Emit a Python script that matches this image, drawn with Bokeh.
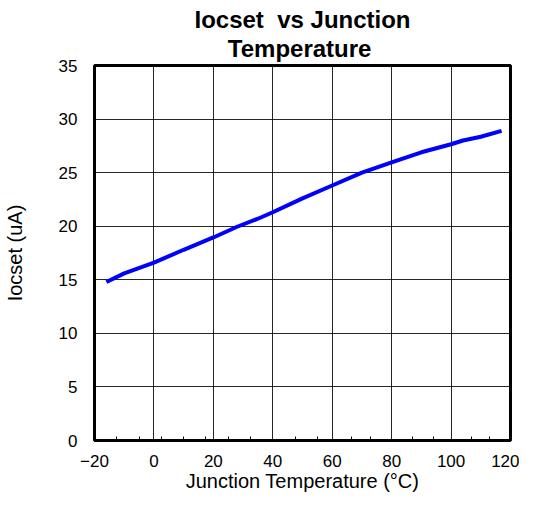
from bokeh.plotting import figure
from bokeh.models import FixedTicker, Range1d, Title
from bokeh.embed import file_html
from bokeh.resources import INLINE

temp_c = [-16, -10, 0, 10, 20, 28, 35, 40, 50, 60, 70, 80, 90, 100, 104, 110, 117]
iocset_ua = [14.8, 15.6, 16.6, 17.8, 18.95, 19.95, 20.7, 21.3, 22.6, 23.8, 25.0, 25.95, 26.9, 27.65, 28.0, 28.35, 28.9]

x_ticks = [-20, 0, 20, 40, 60, 80, 100, 120]
x_minor_ticks = [-12.5, -5, 2.5, 10, 17.5, 25, 32.5, 47.5, 55, 66.5, 73, 87, 94, 107, 113]
y_ticks = [0, 5, 10, 15, 20, 25, 30, 35]

title_line1 = "Iocset\u00a0\u00a0vs Junction"
title_line2 = "Temperature"
x_label = "Junction Temperature (°C)"
y_label = "Iocset (uA)"

FONT = "Liberation Sans"

p = figure(width=519, height=496, output_backend="svg", toolbar_location=None,
           x_range=Range1d(-20, 120), y_range=Range1d(0, 35),
           min_border_left=92, min_border_right=9, min_border_top=60, min_border_bottom=56)

# second line padded with no-break spaces so that it sits centred under the first
p.title = Title(text=title_line1 + "\n" + "\u00a0" * 5 + title_line2, align="center",
                text_font=FONT, text_font_size="24px", text_font_style="bold",
                text_color="black", text_line_height=1.08, offset=4, standoff=7)

p.line(temp_c, iocset_ua, line_color="#0000FF", line_width=4)

p.outline_line_color = "black"
p.outline_line_width = 3
p.outline_line_alpha = 1

for ax in (p.xaxis[0], p.yaxis[0]):
    ax.axis_line_color = None
    ax.major_tick_line_color = None
    ax.major_tick_in = 0
    ax.major_tick_out = 0
    ax.major_label_text_font = FONT
    ax.major_label_text_font_size = "17px"
    ax.major_label_text_color = "black"
    ax.axis_label_text_font = FONT
    ax.axis_label_text_font_size = "20px"
    ax.axis_label_text_font_style = "normal"
    ax.axis_label_text_color = "black"

p.xaxis.ticker = FixedTicker(ticks=x_ticks, minor_ticks=x_minor_ticks)
p.xaxis.minor_tick_line_color = "black"
p.xaxis.minor_tick_in = 4
p.xaxis.minor_tick_out = 0
p.xaxis.major_label_standoff = 14
p.xaxis.axis_label = x_label
p.xaxis.axis_label_standoff = 0

p.yaxis.ticker = FixedTicker(ticks=y_ticks)
p.yaxis.minor_tick_line_color = None
p.yaxis.minor_tick_in = 0
p.yaxis.minor_tick_out = 0
p.yaxis.major_label_standoff = 17
p.yaxis.axis_label = y_label
p.yaxis.axis_label_standoff = 30

p.xgrid.ticker = FixedTicker(ticks=x_ticks)
p.ygrid.ticker = FixedTicker(ticks=y_ticks)
for g in (p.xgrid[0], p.ygrid[0]):
    g.grid_line_color = "black"
    g.grid_line_width = 1
    g.grid_line_alpha = 0.85

open("out.html", "w").write(file_html(p, INLINE))
